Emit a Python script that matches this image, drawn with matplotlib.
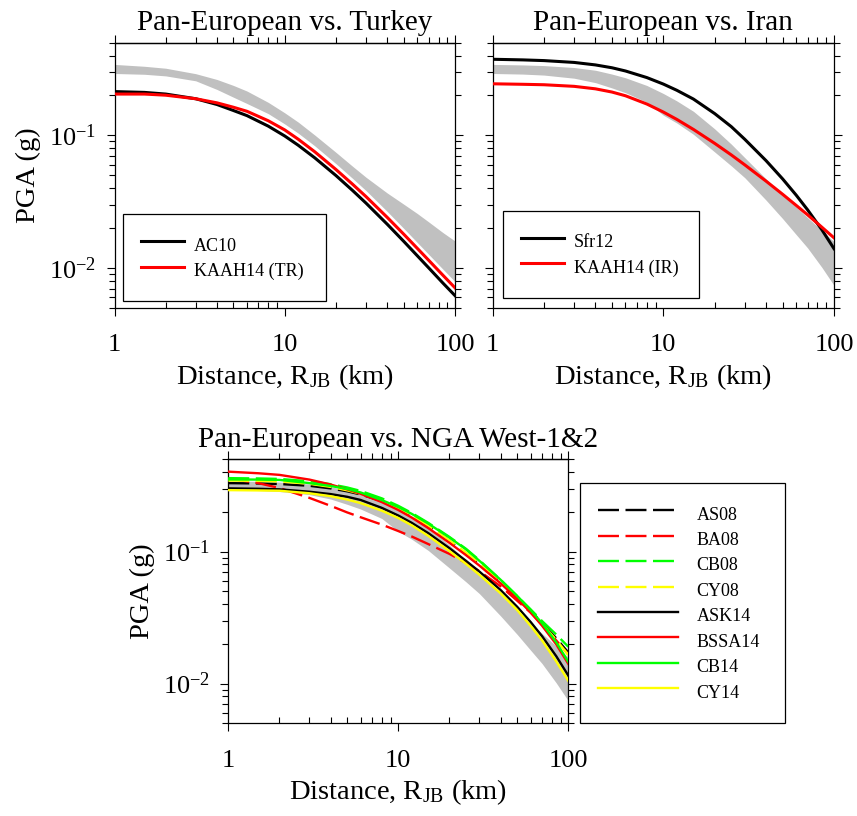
import numpy as np
import matplotlib
matplotlib.use('Agg')
import matplotlib.pyplot as plt
from matplotlib.ticker import NullFormatter
from matplotlib.lines import Line2D

plt.rcParams['font.family'] = ['Liberation Serif', 'DejaVu Serif']
plt.rcParams['mathtext.fontset'] = 'custom'
plt.rcParams['mathtext.rm'] = 'Liberation Serif'
plt.rcParams['mathtext.it'] = 'Liberation Serif:italic'
plt.rcParams['mathtext.bf'] = 'Liberation Serif:bold'
plt.rcParams['lines.scale_dashes'] = False
plt.rcParams['axes.linewidth'] = 0.9

r_km = [1, 1.5, 2, 3, 4, 5, 6, 8, 10, 12, 15, 20, 25, 30, 40, 50, 60, 70, 85, 100]

# Pan-European vs. Turkey
tr_band_hi = [0.343, 0.332, 0.321, 0.292, 0.264, 0.238, 0.216, 0.1775, 0.148, 0.126, 0.1007, 0.0745,
              0.0586, 0.0484, 0.0368, 0.0303, 0.0258, 0.0223, 0.0185, 0.0160]
tr_band_lo = [0.293, 0.289, 0.281, 0.258, 0.222, 0.194, 0.174, 0.146, 0.122, 0.104, 0.0835, 0.0612,
              0.0475, 0.0384, 0.0267, 0.0199, 0.0156, 0.0127, 0.0098, 0.0079]
ac10 = [0.214, 0.211, 0.205, 0.189, 0.171, 0.154, 0.141, 0.1175, 0.099, 0.0843, 0.0678, 0.0498,
        0.0385, 0.0309, 0.0214, 0.0159, 0.0124, 0.01005, 0.0077, 0.0062]
kaah14_tr = [0.205, 0.205, 0.201, 0.189, 0.176, 0.163, 0.152, 0.129, 0.110, 0.0936, 0.0753, 0.0553,
             0.0429, 0.0346, 0.0241, 0.0180, 0.0141, 0.01146, 0.00882, 0.0071]

# Pan-European band used with Iran and NGA West
pe_band_hi = [0.343, 0.340, 0.336, 0.325, 0.310, 0.290, 0.272, 0.238, 0.207, 0.182, 0.152, 0.112,
              0.086, 0.068, 0.047, 0.0355, 0.0288, 0.0240, 0.0192, 0.0158]
pe_band_lo = [0.293, 0.290, 0.285, 0.270, 0.250, 0.228, 0.210, 0.178, 0.142, 0.124, 0.102, 0.075,
              0.059, 0.048, 0.0325, 0.0236, 0.0179, 0.0142, 0.0101, 0.0074]

# Pan-European vs. Iran
sfr12 = [0.375, 0.371, 0.3665, 0.355, 0.340, 0.3236, 0.306, 0.273, 0.2438, 0.2188, 0.188, 0.146,
         0.1165, 0.0935, 0.0645, 0.047, 0.0355, 0.0275, 0.0194, 0.0140]
kaah14_ir = [0.245, 0.2429, 0.241, 0.2344, 0.2245, 0.2123, 0.199, 0.1725, 0.150, 0.132, 0.111, 0.0871,
             0.0713, 0.060, 0.0452, 0.036, 0.0297, 0.0252, 0.0203, 0.0169]

# Pan-European vs. NGA West-1&2
nga_names = ['AS08', 'BA08', 'CB08', 'CY08', 'ASK14', 'BSSA14', 'CB14', 'CY14']
as08 = [0.330, 0.328, 0.325, 0.315, 0.301, 0.286, 0.271, 0.241, 0.212, 0.187, 0.156, 0.120,
        0.097, 0.080, 0.0585, 0.0445, 0.0355, 0.0289, 0.0220, 0.0172]
ba08 = [0.358, 0.330, 0.303, 0.255, 0.222, 0.198, 0.182, 0.160, 0.143, 0.130, 0.114, 0.096,
        0.082, 0.071, 0.0545, 0.0425, 0.0345, 0.0282, 0.0212, 0.0166]
cb08 = [0.360, 0.358, 0.355, 0.341, 0.324, 0.306, 0.288, 0.253, 0.222, 0.196, 0.165, 0.129,
        0.105, 0.086, 0.061, 0.046, 0.0365, 0.0298, 0.0235, 0.0190]
cy08 = [0.345, 0.343, 0.340, 0.326, 0.309, 0.291, 0.274, 0.243, 0.213, 0.188, 0.157, 0.121,
        0.098, 0.081, 0.059, 0.0445, 0.0350, 0.0283, 0.0214, 0.0165]
ask14 = [0.301, 0.299, 0.296, 0.284, 0.2725, 0.260, 0.246, 0.2143, 0.1875, 0.165, 0.138, 0.106,
         0.0851, 0.0705, 0.0511, 0.0382, 0.0293, 0.0229, 0.0161, 0.0115]
bssa14 = [0.403, 0.392, 0.381, 0.351, 0.322, 0.296, 0.274, 0.237, 0.2065, 0.181, 0.1507, 0.1164,
          0.094, 0.0783, 0.0574, 0.044, 0.0346, 0.0275, 0.0198, 0.0141]
cb14 = [0.352, 0.351, 0.349, 0.330, 0.314, 0.298, 0.2805, 0.2455, 0.2173, 0.193, 0.163, 0.1276,
        0.104, 0.0851, 0.0611, 0.0462, 0.0361, 0.0287, 0.0205, 0.0146]
cy14 = [0.292, 0.2905, 0.289, 0.2765, 0.2627, 0.2477, 0.2329, 0.204, 0.1795, 0.158, 0.1315, 0.1009,
        0.0807, 0.0667, 0.0482, 0.0361, 0.0274, 0.0213, 0.0147, 0.0105]
nga_curves = [as08, ba08, cb08, cy08, ask14, bssa14, cb14, cy14]
nga_colors = ['black', '#ff0000', '#00ff00', '#ffff00'] * 2
nga_dashed = [True] * 4 + [False] * 4

band_color = '#c0c0c0'
W, H = 857, 816
DASH = (15.1, 4.7)
LEG_KW = dict(mode='expand', borderaxespad=0, fancybox=False, edgecolor='black', framealpha=1,
              fontsize=13, borderpad=1.0, labelspacing=0.0, handleheight=1.79)


def style_axes(ax, title, ylabels=True):
    ax.set_xscale('log')
    ax.set_yscale('log')
    ax.set_xlim(1, 100)
    ax.set_ylim(0.005, 0.5)
    ax.set_xticks([1, 10, 100], ['1', '10', '100'])
    ax.set_yticks([0.01, 0.1], [r'10$^{\mathregular{-2}}$', r'10$^{\mathregular{-1}}$'])
    ax.xaxis.set_minor_formatter(NullFormatter())
    ax.yaxis.set_minor_formatter(NullFormatter())
    ax.tick_params(which='major', direction='out', length=6, width=0.8, labelsize=19, right=True, top=False)
    ax.tick_params(axis='y', which='minor', direction='out', length=4, width=0.8, right=True)
    ax.tick_params(axis='x', which='minor', direction='in', length=4, width=0.8, top=False)
    ax.tick_params(axis='x', which='major', pad=13)
    ax.tick_params(axis='y', which='major', pad=7)
    if not ylabels:
        ax.tick_params(labelleft=False)
    else:
        ax.set_ylabel('PGA (g)', fontsize=20.5, labelpad=6)
    ax.set_xlabel(r'Distance, R$_{\mathregular{JB}}$ (km)', fontsize=20.5, labelpad=4)
    ax.set_title(title, fontsize=21, pad=9)
    top = ax.secondary_xaxis('top')
    top.xaxis.set_major_formatter(NullFormatter())
    top.xaxis.set_minor_formatter(NullFormatter())
    top.tick_params(which='major', direction='out', length=6, width=0.8)
    top.tick_params(which='minor', direction='out', length=4, width=0.8)


def box_anchor(x0, y0, x1, y1):
    return (x0 / W, 1 - y1 / H, (x1 - x0) / W, (y1 - y0) / H)


fig = plt.figure(figsize=(W / 100, H / 100), dpi=100)
ax1 = fig.add_axes([114.5 / W, 1 - 308 / H, 340.5 / W, 265.3 / H])
ax2 = fig.add_axes([492.7 / W, 1 - 308 / H, 341.3 / W, 265.3 / H])
ax3 = fig.add_axes([228.3 / W, 1 - 723.3 / H, 340 / W, 264 / H])

# Turkey
ax1.fill_between(r_km, tr_band_lo, tr_band_hi, color=band_color, lw=0, zorder=1)
ax1.plot(r_km, ac10, color='black', lw=2.2, label='AC10', zorder=3)
ax1.plot(r_km, kaah14_tr, color='#ff0000', lw=2.2, label='KAAH14 (TR)', zorder=4)
style_axes(ax1, 'Pan-European vs. Turkey')
leg = ax1.legend(loc='upper left', bbox_to_anchor=box_anchor(123, 214, 326, 299),
                 bbox_transform=fig.transFigure, handlelength=2.4, handletextpad=0.55, **LEG_KW)
leg.get_frame().set_linewidth(0.9)

# Iran
ax2.fill_between(r_km, pe_band_lo, pe_band_hi, color=band_color, lw=0, zorder=1)
ax2.plot(r_km, sfr12, color='black', lw=2.2, label='Sfr12', zorder=3)
ax2.plot(r_km, kaah14_ir, color='#ff0000', lw=2.2, label='KAAH14 (IR)', zorder=4)
style_axes(ax2, 'Pan-European vs. Iran', ylabels=False)
leg = ax2.legend(loc='upper left', bbox_to_anchor=box_anchor(502.7, 210.7, 699, 295.7),
                 bbox_transform=fig.transFigure, handlelength=2.4, handletextpad=0.55, **LEG_KW)
leg.get_frame().set_linewidth(0.9)

# NGA West
ax3.fill_between(r_km, pe_band_lo, pe_band_hi, color=band_color, lw=0, zorder=1)
handles = []
for name, vals, col, dashed in zip(nga_names, nga_curves, nga_colors, nga_dashed):
    if dashed:
        ax3.plot(r_km, vals, color=col, lw=1.7, dashes=DASH, zorder=3)
    else:
        ax3.plot(r_km, vals, color=col, lw=1.7, zorder=5 if col == '#00ff00' else 4)
    handles.append(Line2D([], [], color=col, lw=1.7, dashes=DASH if dashed else (None, None), label=name))
style_axes(ax3, 'Pan-European vs. NGA West-1&2')
leg = fig.legend(handles=handles, loc='upper left', bbox_to_anchor=box_anchor(580, 483, 785, 720),
                 handlelength=4.4, handletextpad=1.05, **LEG_KW)
leg.get_frame().set_linewidth(0.9)

fig.savefig('out.png', dpi=100)
